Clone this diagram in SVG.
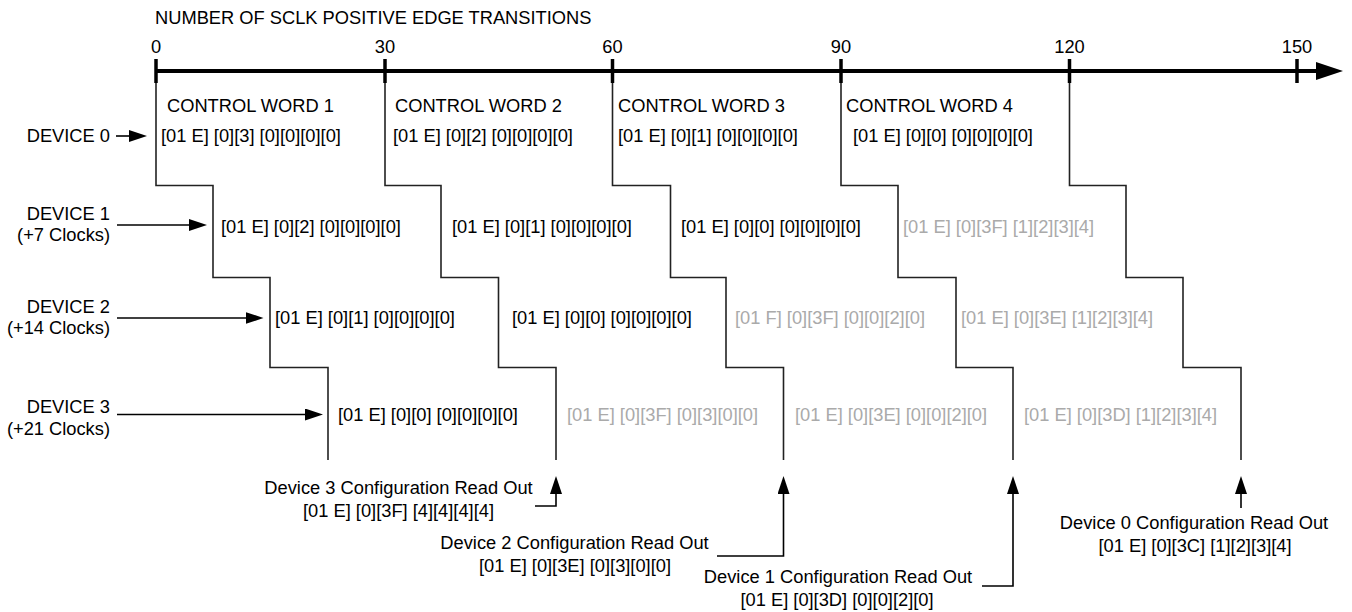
<svg xmlns="http://www.w3.org/2000/svg" width="1352" height="612" viewBox="0 0 1352 612">
<defs>
<style>
text{font-family:"Liberation Sans",Arial,sans-serif;font-size:18.3px;fill:#000}
.g{fill:#aaaaaa}
.m{text-anchor:middle}
.e{text-anchor:end}
.stair{fill:none;stroke:#222;stroke-width:1.6}
.arr{fill:none;stroke:#000;stroke-width:1.6;marker-end:url(#ah)}
.tick{stroke:#000;stroke-width:3.5}
</style>
<marker id="ah" viewBox="0 0 18 12" refX="14" refY="6" markerWidth="18" markerHeight="12" markerUnits="userSpaceOnUse" orient="auto">
<path d="M0,0 L18,6 L0,12 z" fill="#000"/>
</marker>
</defs>
<rect width="1352" height="612" fill="#fff"/>

<g id="axis">
<text x="155" y="24">NUMBER OF SCLK POSITIVE EDGE TRANSITIONS</text>
<line x1="156" y1="71" x2="1320" y2="71" stroke="#000" stroke-width="4"/>
<polygon points="1316,62 1343,71 1316,80" fill="#000"/>
<line class="tick" x1="156" y1="59" x2="156" y2="83"/>
<line class="tick" x1="385" y1="59" x2="385" y2="83"/>
<line class="tick" x1="612.5" y1="59" x2="612.5" y2="83"/>
<line class="tick" x1="841" y1="59" x2="841" y2="83"/>
<line class="tick" x1="1069.5" y1="59" x2="1069.5" y2="83"/>
<line class="tick" x1="1297" y1="59" x2="1297" y2="83"/>
<text class="m" x="156" y="53">0</text>
<text class="m" x="385" y="53">30</text>
<text class="m" x="612.5" y="53">60</text>
<text class="m" x="841" y="53">90</text>
<text class="m" x="1069.5" y="53">120</text>
<text class="m" x="1297" y="53">150</text>
</g>

<g id="control-words">
<text x="167" y="112">CONTROL WORD 1</text>
<text x="395" y="112">CONTROL WORD 2</text>
<text x="618" y="112">CONTROL WORD 3</text>
<text x="846" y="112">CONTROL WORD 4</text>
</g>

<g id="device0">
<text class="e" x="110" y="142">DEVICE 0</text>
<text x="161" y="142">[01 E] [0][3] [0][0][0][0]</text>
<text x="393" y="142">[01 E] [0][2] [0][0][0][0]</text>
<text x="618" y="142">[01 E] [0][1] [0][0][0][0]</text>
<text x="853" y="142">[01 E] [0][0] [0][0][0][0]</text>
</g>

<g id="device1">
<text class="e" x="110" y="220">DEVICE 1</text>
<text class="e" x="110" y="241">(+7 Clocks)</text>
<text x="221" y="233">[01 E] [0][2] [0][0][0][0]</text>
<text x="452" y="233">[01 E] [0][1] [0][0][0][0]</text>
<text x="681" y="233">[01 E] [0][0] [0][0][0][0]</text>
<text class="g" x="903" y="233">[01 E] [0][3F] [1][2][3][4]</text>
</g>

<g id="device2">
<text class="e" x="110" y="313">DEVICE 2</text>
<text class="e" x="110" y="334">(+14 Clocks)</text>
<text x="275" y="324">[01 E] [0][1] [0][0][0][0]</text>
<text x="512" y="324">[01 E] [0][0] [0][0][0][0]</text>
<text class="g" x="735" y="324">[01 F] [0][3F] [0][0][2][0]</text>
<text class="g" x="961" y="324">[01 E] [0][3E] [1][2][3][4]</text>
</g>

<g id="device3">
<text class="e" x="110" y="413">DEVICE 3</text>
<text class="e" x="110" y="435">(+21 Clocks)</text>
<text x="338" y="421">[01 E] [0][0] [0][0][0][0]</text>
<text class="g" x="567" y="421">[01 E] [0][3F] [0][3][0][0]</text>
<text class="g" x="795" y="421">[01 E] [0][3E] [0][0][2][0]</text>
<text class="g" x="1024" y="421">[01 E] [0][3D] [1][2][3][4]</text>
</g>

<g id="readout3">
<text class="m" x="398.5" y="494">Device 3 Configuration Read Out</text>
<text class="m" x="398.5" y="517">[01 E] [0][3F] [4][4][4][4]</text>
</g>
<g id="readout2">
<text class="m" x="574.5" y="549">Device 2 Configuration Read Out</text>
<text class="m" x="575" y="572">[01 E] [0][3E] [0][3][0][0]</text>
</g>
<g id="readout1">
<text class="m" x="838" y="583">Device 1 Configuration Read Out</text>
<text class="m" x="837" y="606">[01 E] [0][3D] [0][0][2][0]</text>
</g>
<g id="readout0">
<text class="m" x="1194" y="529">Device 0 Configuration Read Out</text>
<text class="m" x="1195" y="552">[01 E] [0][3C] [1][2][3][4]</text>
</g>

<g id="connectors">
<path class="stair" d="M156 83 V185.5 H213 V277.5 H270 V367.5 H328 V460"/>
<path class="stair" d="M385 83 V185.5 H441 V277.5 H498.5 V367.5 H556 V460"/>
<path class="stair" d="M612.5 83 V185.5 H670.5 V277.5 H726 V367.5 H783.5 V460"/>
<path class="stair" d="M841 83 V185.5 H898 V277.5 H956 V367.5 H1013 V460"/>
<path class="stair" d="M1069.5 83 V185.5 H1126 V277.5 H1183 V367.5 H1241 V460"/>

<path class="arr" d="M116 136 H143"/>
<path class="arr" d="M117 225 H203"/>
<path class="arr" d="M117 318 H259.5"/>
<path class="arr" d="M117 414.5 H319"/>

<path class="arr" d="M535 506 H556 V480"/>
<path class="arr" d="M717 556 H783.5 V480"/>
<path class="arr" d="M982 586 H1013 V480"/>
<path class="arr" d="M1241 508 V480"/>
</g>
</svg>
